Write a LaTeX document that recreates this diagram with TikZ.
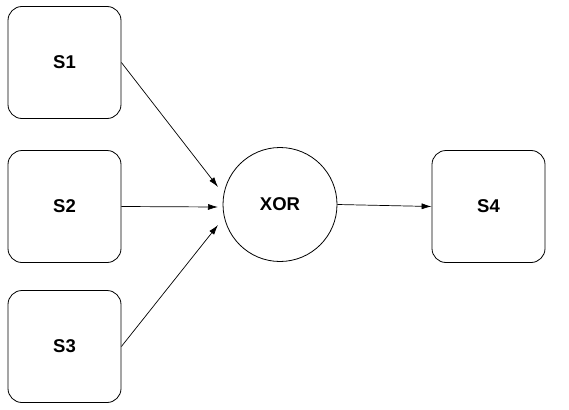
\documentclass[tikz,border=0pt]{standalone}
\usepackage{fontspec}
\setmainfont{Liberation Sans}
\usetikzlibrary{arrows.meta}
\begin{document}
\begin{tikzpicture}[x=1pt,y=-1pt,
  box/.style={draw=black,line width=0.8pt,rounded corners=14pt,minimum width=113pt,minimum height=112pt,inner sep=0pt,font=\fontsize{18.5}{22}\selectfont\bfseries},
  gate/.style={draw=black,line width=0.8pt,circle,minimum size=114pt,inner sep=0pt,font=\fontsize{18.5}{22}\selectfont\bfseries},
  arr/.style={line width=0.7pt,-{Latex[length=10pt,width=6pt]}}]
\useasboundingbox (0,0) rectangle (569,409);
\node[box] (s1) at (64.5,62.5) {S1};
\node[box] (s2) at (64.5,206.5) {S2};
\node[box] (s3) at (64.5,346.5) {S3};
\node[box] (s4) at (488.5,206.5) {S4};
\node[gate] (xor) at (280,204.5) {XOR};
\coordinate (in1) at (218,187);
\coordinate (in2) at (218,207);
\coordinate (in3) at (218,225);
\draw[arr] (s1.east) -- (in1);
\draw[arr] (s2.east) -- (in2);
\draw[arr] (s3.east) -- (in3);
\draw[arr] (xor.east) -- (s4.west);
\end{tikzpicture}
\end{document}
